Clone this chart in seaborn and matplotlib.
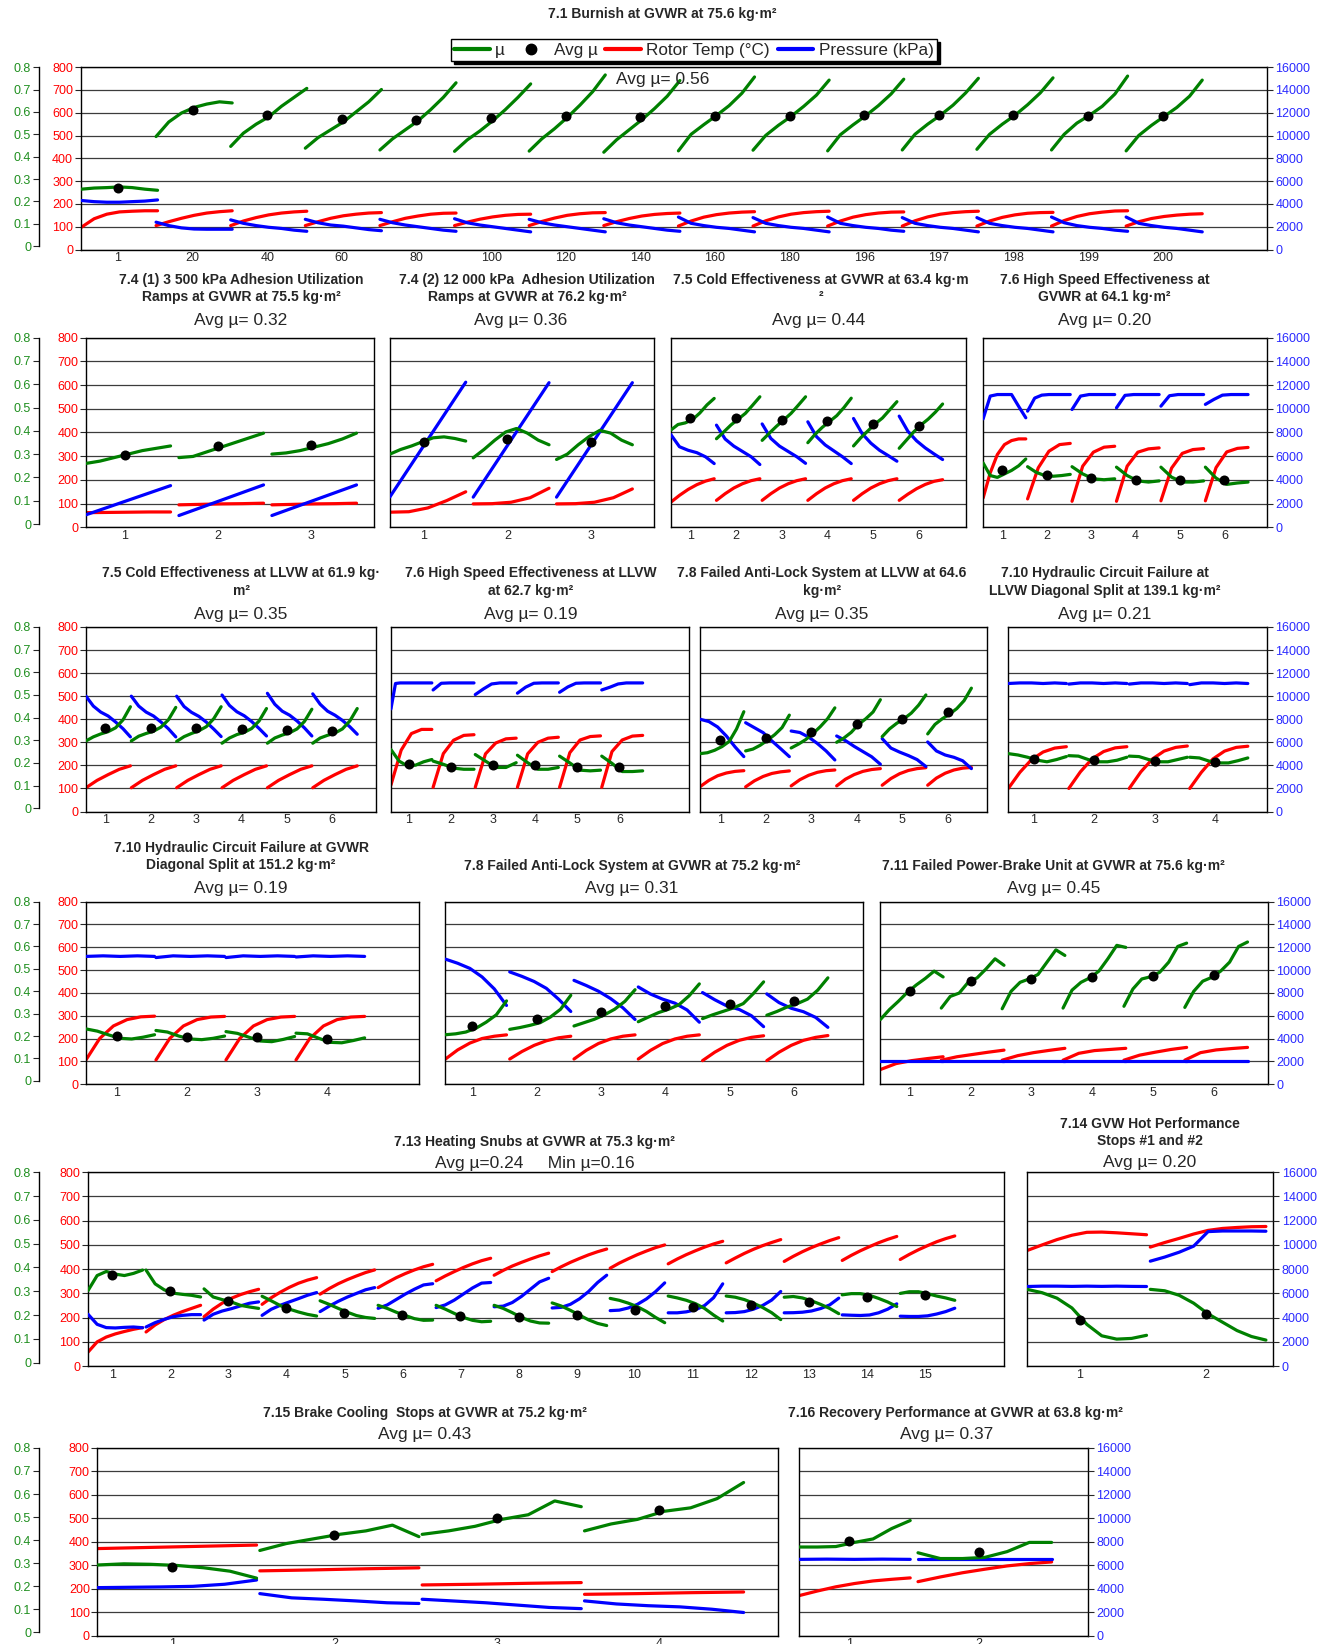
import numpy as np
import pandas as pd
import seaborn as sns
import matplotlib
matplotlib.use("Agg")
import matplotlib.pyplot as plt
from matplotlib.lines import Line2D

sns.set_style("white")
plt.rcParams["font.family"] = ["Liberation Sans", "DejaVu Sans"]

GREEN, RED, BLUE = "#008000", "#ff0000", "#0000ff"
LBL_GREEN, LBL_BLUE = "#1f8f1f", "#2a2aff"

# ---------------- 7.1 Burnish ----------------
LAB_71 = ["1", "20", "40", "60", "80", "100", "120", "140", "160", "180", "196", "197", "198", "199", "200"]
MU_71 = [
    [0.255, 0.26, 0.262, 0.265, 0.262, 0.255, 0.25],
    [0.49, 0.555, 0.595, 0.62, 0.635, 0.645, 0.64],
    [0.446, 0.505, 0.545, 0.578, 0.625, 0.665, 0.705],
    [0.438, 0.485, 0.52, 0.555, 0.6, 0.645, 0.70],
    [0.43, 0.48, 0.52, 0.56, 0.61, 0.665, 0.73],
    [0.424, 0.475, 0.515, 0.56, 0.61, 0.665, 0.725],
    [0.425, 0.48, 0.525, 0.575, 0.63, 0.69, 0.765],
    [0.42, 0.475, 0.52, 0.565, 0.615, 0.67, 0.74],
    [0.426, 0.50, 0.543, 0.584, 0.628, 0.683, 0.756],
    [0.429, 0.495, 0.54, 0.58, 0.625, 0.675, 0.742],
    [0.426, 0.498, 0.542, 0.583, 0.628, 0.68, 0.746],
    [0.43, 0.50, 0.545, 0.585, 0.63, 0.685, 0.75],
    [0.433, 0.50, 0.545, 0.585, 0.632, 0.685, 0.752],
    [0.43, 0.50, 0.55, 0.585, 0.625, 0.68, 0.76],
    [0.426, 0.495, 0.54, 0.58, 0.62, 0.67, 0.742],
]
AVG_71 = [0.26, 0.61, 0.585, 0.567, 0.565, 0.572, 0.583, 0.575, 0.583, 0.583, 0.584, 0.585, 0.585, 0.583, 0.582]
TEMP_71 = [
    [98, 135, 155, 165, 168, 170, 170],
    [105, 122, 137, 150, 160, 166, 170],
    [105, 125, 140, 152, 160, 165, 168],
    [105, 122, 137, 148, 155, 160, 162],
    [105, 122, 137, 147, 155, 159, 160],
    [105, 120, 133, 143, 150, 154, 155],
    [105, 123, 138, 150, 157, 161, 162],
    [105, 122, 136, 147, 154, 158, 160],
    [103, 125, 142, 153, 160, 164, 166],
    [103, 126, 143, 155, 162, 166, 168],
    [103, 125, 142, 153, 160, 164, 165],
    [103, 126, 143, 155, 162, 166, 168],
    [103, 125, 141, 152, 159, 162, 163],
    [103, 127, 145, 157, 164, 169, 170],
    [103, 122, 136, 145, 151, 155, 157],
]
PRES_71 = [
    [4300, 4200, 4150, 4150, 4200, 4250, 4350],
    [2400, 2100, 1900, 1800, 1780, 1780, 1780],
    [2600, 2300, 2100, 1950, 1850, 1700, 1600],
    [2650, 2350, 2150, 2050, 1900, 1750, 1650],
    [2650, 2350, 2150, 2000, 1850, 1700, 1600],
    [2700, 2350, 2150, 2000, 1850, 1700, 1550],
    [2650, 2350, 2150, 2000, 1850, 1700, 1550],
    [2700, 2350, 2150, 2000, 1850, 1700, 1600],
    [2850, 2300, 2100, 1950, 1850, 1700, 1550],
    [2800, 2300, 2100, 1950, 1850, 1700, 1550],
    [2850, 2300, 2100, 1950, 1850, 1700, 1600],
    [2800, 2300, 2100, 1950, 1850, 1700, 1550],
    [2800, 2300, 2100, 1950, 1850, 1700, 1550],
    [2850, 2350, 2100, 1950, 1850, 1700, 1600],
    [2850, 2300, 2100, 1950, 1850, 1700, 1550],
]

# ---------------- 7.4 (1) ----------------
MU_741 = [
    [0.26, 0.27, 0.285, 0.30, 0.315, 0.325, 0.335],
    [0.285, 0.29, 0.31, 0.33, 0.35, 0.37, 0.39],
    [0.30, 0.305, 0.315, 0.33, 0.345, 0.365, 0.39],
]
AVG_741 = [0.295, 0.335, 0.34]
TEMP_741 = [[62, 63, 64, 65, 65], [95, 97, 99, 100, 102], [95, 97, 99, 100, 102]]
PRES_741 = [[1060, 3520], [1000, 3580], [1000, 3580]]

# ---------------- 7.4 (2) ----------------
MU_742 = [
    [0.30, 0.32, 0.335, 0.353, 0.37, 0.374, 0.367, 0.356],
    [0.284, 0.32, 0.36, 0.395, 0.41, 0.39, 0.36, 0.34],
    [0.277, 0.30, 0.34, 0.375, 0.402, 0.39, 0.36, 0.34],
]
AVG_742 = [0.35, 0.365, 0.353]
TEMP_742 = [[64, 66, 82, 113, 150], [99, 100, 106, 125, 165], [99, 100, 106, 125, 162]]
PRES_742 = [[2570, 12240], [2550, 12200], [2550, 12200]]

# ---------------- 7.5 Cold GVWR ----------------
MU_75G = [
    [0.403, 0.427, 0.434, 0.448, 0.476, 0.511, 0.539],
    [0.366, 0.395, 0.425, 0.45, 0.475, 0.51, 0.546],
    [0.359, 0.39, 0.42, 0.447, 0.475, 0.51, 0.546],
    [0.349, 0.385, 0.415, 0.44, 0.465, 0.50, 0.54],
    [0.335, 0.37, 0.40, 0.43, 0.455, 0.49, 0.525],
    [0.325, 0.36, 0.395, 0.425, 0.45, 0.48, 0.515],
]
AVG_75G = [0.455, 0.455, 0.448, 0.44, 0.43, 0.42]
TEMP_75G = [
    [106, 135, 160, 180, 195, 205],
    [114, 142, 166, 184, 197, 205],
    [114, 142, 166, 184, 197, 205],
    [114, 142, 166, 184, 197, 205],
    [114, 142, 166, 184, 197, 205],
    [114, 140, 163, 181, 194, 201],
]
PRES_75G = [
    [7830, 6800, 6500, 6300, 5950, 5380],
    [8620, 7450, 6850, 6400, 5950, 5300],
    [8720, 7500, 6850, 6400, 5950, 5400],
    [8900, 7650, 6950, 6450, 5950, 5380],
    [9180, 7900, 7100, 6500, 6050, 5580],
    [9380, 8100, 7300, 6700, 6200, 5720],
]

# ---------------- 7.6 High Speed GVWR ----------------
MU_76G = [
    [0.262, 0.208, 0.20, 0.215, 0.23, 0.25, 0.279],
    [0.246, 0.222, 0.208, 0.205, 0.208, 0.213],
    [0.246, 0.215, 0.194, 0.19, 0.194],
    [0.244, 0.208, 0.185, 0.18, 0.185],
    [0.244, 0.201, 0.18, 0.18, 0.185],
    [0.244, 0.197, 0.17, 0.176, 0.18],
]
AVG_76G = [0.23, 0.211, 0.197, 0.19, 0.19, 0.19]
TEMP_76G = [
    [124, 230, 307, 349, 366, 373, 373],
    [120, 251, 321, 349, 354],
    [110, 258, 317, 338, 342],
    [110, 258, 317, 331, 335],
    [112, 250, 312, 328, 332],
    [112, 252, 318, 333, 337],
]
PRES_76G = [
    [9150, 11070, 11200, 11200, 11200, 10200, 9240],
    [9800, 10900, 11150, 11200, 11200, 11200, 11200],
    [9940, 11070, 11200, 11200, 11200, 11200],
    [10080, 11130, 11200, 11200, 11200, 11200],
    [10220, 11100, 11200, 11200, 11200, 11200],
    [10370, 10790, 11150, 11200, 11200, 11200],
]

# ---------------- 7.5 Cold LLVW ----------------
MU_75L = [
    [0.297, 0.315, 0.328, 0.338, 0.355, 0.39, 0.448],
    [0.297, 0.318, 0.33, 0.34, 0.358, 0.39, 0.445],
    [0.295, 0.316, 0.33, 0.342, 0.36, 0.395, 0.448],
    [0.287, 0.31, 0.325, 0.335, 0.352, 0.385, 0.44],
    [0.287, 0.31, 0.323, 0.333, 0.35, 0.383, 0.437],
    [0.287, 0.31, 0.322, 0.332, 0.35, 0.385, 0.44],
]
AVG_75L = [0.352, 0.352, 0.352, 0.348, 0.345, 0.342]
TEMP_75L = [
    [103, 135, 160, 183, 198],
    [103, 135, 160, 183, 198],
    [103, 135, 160, 183, 198],
    [103, 135, 160, 183, 198],
    [103, 135, 160, 183, 198],
    [103, 135, 160, 183, 198],
]
PRES_75L = [
    [10000, 9140, 8620, 8280, 7760, 7180, 6470],
    [10000, 9140, 8620, 8280, 7760, 7180, 6470],
    [10000, 9100, 8600, 8250, 7750, 7150, 6500],
    [10100, 9200, 8650, 8300, 7800, 7200, 6550],
    [10250, 9300, 8700, 8350, 7850, 7250, 6550],
    [10200, 9300, 8700, 8350, 7900, 7350, 6700],
]

# ---------------- 7.6 High Speed LLVW ----------------
MU_76L = [
    [0.259, 0.208, 0.187, 0.19, 0.205, 0.215],
    [0.208, 0.194, 0.177, 0.172, 0.172],
    [0.237, 0.208, 0.18, 0.18, 0.201],
    [0.234, 0.201, 0.172, 0.172, 0.18],
    [0.23, 0.20, 0.168, 0.165, 0.168],
    [0.23, 0.198, 0.162, 0.162, 0.165],
]
AVG_76L = [0.197, 0.18, 0.191, 0.191, 0.184, 0.18]
TEMP_76L = [
    [115, 266, 338, 356, 356],
    [105, 251, 309, 330, 333],
    [105, 250, 297, 315, 318],
    [105, 250, 300, 318, 322],
    [105, 255, 310, 325, 328],
    [105, 260, 310, 327, 330],
]
PRES_76L = [
    [8900, 11100, 11150, 11150, 11150, 11150, 11150, 11150, 11150, 11150],
    [10540, 11120, 11150, 11150, 11150, 11150],
    [10140, 10630, 11060, 11150, 11150, 11150],
    [10260, 10780, 11120, 11150, 11150, 11150],
    [10340, 10800, 11120, 11150, 11150, 11150],
    [10540, 10780, 11060, 11150, 11150, 11150],
]

# ---------------- 7.8 ABS LLVW ----------------
MU_78L = [
    [0.241, 0.245, 0.256, 0.272, 0.295, 0.35, 0.426],
    [0.253, 0.261, 0.278, 0.30, 0.325, 0.356, 0.411],
    [0.266, 0.283, 0.303, 0.33, 0.36, 0.395, 0.443],
    [0.291, 0.31, 0.335, 0.37, 0.395, 0.425, 0.479],
    [0.316, 0.35, 0.375, 0.395, 0.42, 0.455, 0.50],
    [0.328, 0.37, 0.395, 0.415, 0.44, 0.475, 0.53],
]
AVG_78L = [0.299, 0.31, 0.335, 0.37, 0.395, 0.425]
TEMP_78L = [
    [108, 135, 155, 167, 174, 177],
    [107, 133, 152, 165, 172, 176],
    [111, 138, 157, 170, 177, 180],
    [111, 140, 160, 174, 182, 186],
    [114, 143, 164, 178, 186, 190],
    [114, 145, 166, 180, 188, 191],
]
PRES_78L = [
    [8000, 7800, 7330, 6550, 5600, 4760],
    [7700, 7270, 6840, 6120, 5450, 4760],
    [6980, 6850, 6450, 5900, 5250, 4470],
    [6550, 6150, 5650, 5200, 4750, 4100],
    [6320, 5500, 5150, 4850, 4500, 3900],
    [6030, 5250, 4900, 4700, 4400, 3720],
]

# ---------------- 7.10 Hydraulic LLVW ----------------
MU_710L = [
    [0.241, 0.235, 0.225, 0.212, 0.205, 0.215, 0.228],
    [0.232, 0.23, 0.215, 0.205, 0.205, 0.212, 0.225],
    [0.23, 0.228, 0.215, 0.205, 0.205, 0.215, 0.225],
    [0.225, 0.222, 0.208, 0.20, 0.20, 0.21, 0.222],
]
AVG_710L = [0.216, 0.212, 0.208, 0.205]
TEMP_710L = [
    [100, 170, 225, 258, 275, 281],
    [100, 172, 228, 260, 276, 281],
    [100, 172, 228, 262, 278, 284],
    [100, 170, 228, 262, 278, 283],
]
PRES_710L = [
    [11100, 11150, 11150, 11100, 11150, 11100],
    [11050, 11150, 11150, 11100, 11150, 11100],
    [11050, 11150, 11150, 11100, 11150, 11100],
    [11000, 11150, 11150, 11100, 11150, 11100],
]

# ---------------- 7.10 Hydraulic GVWR ----------------
MU_710G = [
    [0.232, 0.222, 0.205, 0.19, 0.187, 0.195, 0.206],
    [0.225, 0.218, 0.20, 0.187, 0.184, 0.19, 0.20],
    [0.22, 0.212, 0.195, 0.178, 0.175, 0.185, 0.198],
    [0.213, 0.21, 0.19, 0.172, 0.17, 0.18, 0.192],
]
AVG_710G = [0.20, 0.198, 0.194, 0.188]
TEMP_710G = [
    [106, 200, 255, 283, 295, 298],
    [106, 200, 255, 283, 294, 297],
    [106, 200, 255, 283, 294, 297],
    [106, 200, 255, 283, 294, 297],
]
PRES_710G = [
    [11200, 11250, 11200, 11250, 11200],
    [11100, 11250, 11200, 11250, 11200],
    [11100, 11250, 11200, 11250, 11200],
    [11150, 11250, 11200, 11250, 11200],
]

# ---------------- 7.8 ABS GVWR ----------------
MU_78G = [
    [0.206, 0.21, 0.218, 0.235, 0.262, 0.295, 0.357],
    [0.23, 0.238, 0.248, 0.26, 0.285, 0.32, 0.382],
    [0.245, 0.26, 0.275, 0.295, 0.32, 0.355, 0.407],
    [0.264, 0.285, 0.305, 0.32, 0.34, 0.38, 0.433],
    [0.278, 0.295, 0.31, 0.325, 0.345, 0.39, 0.442],
    [0.293, 0.31, 0.33, 0.345, 0.365, 0.405, 0.46],
]
AVG_78G = [0.247, 0.275, 0.308, 0.333, 0.344, 0.357]
TEMP_78G = [
    [110, 150, 180, 200, 210, 216],
    [110, 143, 170, 190, 203, 210],
    [110, 148, 178, 198, 210, 216],
    [110, 148, 178, 198, 210, 216],
    [103, 140, 170, 192, 205, 212],
    [103, 140, 170, 192, 205, 213],
]
PRES_78G = [
    [10960, 10600, 10150, 9400, 8350, 6900],
    [9840, 9450, 9000, 8400, 7450, 6370],
    [9100, 8650, 8150, 7500, 6700, 5670],
    [8520, 7900, 7450, 7100, 6500, 5430],
    [8030, 7400, 6850, 6550, 6000, 5040],
    [7910, 7150, 6650, 6350, 5850, 4980],
]

# ---------------- 7.11 Power-Brake ----------------
MU_711 = [
    [0.274, 0.318, 0.355, 0.395, 0.428, 0.457, 0.49, 0.464],
    [0.325, 0.377, 0.392, 0.44, 0.46, 0.50, 0.545, 0.516],
    [0.322, 0.40, 0.44, 0.455, 0.475, 0.53, 0.585, 0.56],
    [0.325, 0.405, 0.44, 0.46, 0.49, 0.545, 0.605, 0.596],
    [0.333, 0.41, 0.455, 0.465, 0.485, 0.53, 0.60, 0.615],
    [0.328, 0.40, 0.445, 0.462, 0.49, 0.53, 0.60, 0.62],
]
AVG_711 = [0.401, 0.445, 0.456, 0.462, 0.47, 0.472]
TEMP_711 = [
    [64, 90, 103, 112, 120],
    [105, 120, 130, 140, 149],
    [105, 125, 138, 148, 157],
    [105, 135, 147, 152, 157],
    [105, 127, 140, 152, 161],
    [105, 138, 150, 156, 161],
]
PRES_711 = [[2020, 2020], [2020, 2020], [2020, 2020], [2020, 2020], [2020, 2020], [2020, 2020]]

# ---------------- 7.13 Heating Snubs ----------------
MU_713 = [
    [0.303, 0.366, 0.383, 0.372, 0.366, 0.375, 0.389],
    [0.389, 0.331, 0.306, 0.292, 0.287, 0.283, 0.276],
    [0.31, 0.276, 0.265, 0.255, 0.241, 0.234, 0.228],
    [0.279, 0.26, 0.24, 0.225, 0.213, 0.203, 0.196],
    [0.26, 0.245, 0.228, 0.212, 0.198, 0.19, 0.186],
    [0.241, 0.228, 0.212, 0.198, 0.185, 0.178, 0.179],
    [0.241, 0.225, 0.207, 0.19, 0.178, 0.172, 0.174],
    [0.241, 0.228, 0.21, 0.19, 0.175, 0.167, 0.166],
    [0.251, 0.238, 0.22, 0.20, 0.18, 0.165, 0.156],
    [0.27, 0.262, 0.25, 0.235, 0.215, 0.19, 0.168],
    [0.28, 0.272, 0.262, 0.248, 0.228, 0.20, 0.175],
    [0.28, 0.275, 0.265, 0.25, 0.232, 0.21, 0.181],
    [0.275, 0.278, 0.272, 0.26, 0.245, 0.228, 0.206],
    [0.285, 0.29, 0.29, 0.283, 0.27, 0.255, 0.236],
    [0.291, 0.298, 0.298, 0.29, 0.28, 0.272, 0.262],
]
AVG_713 = [0.37, 0.299, 0.258, 0.228, 0.21, 0.20, 0.196, 0.193, 0.20, 0.22, 0.232, 0.243, 0.257, 0.274, 0.285]
TEMP_713 = [
    [58, 100, 120, 133, 143, 152, 159],
    [141, 170, 192, 210, 225, 238, 251],
    [204, 235, 260, 280, 295, 307, 317],
    [255, 282, 305, 325, 342, 355, 365],
    [297, 320, 340, 357, 372, 386, 397],
    [324, 345, 365, 382, 397, 410, 420],
    [352, 372, 390, 407, 422, 435, 445],
    [375, 395, 413, 428, 442, 455, 466],
    [390, 410, 428, 444, 459, 472, 483],
    [404, 425, 443, 460, 475, 489, 500],
    [422, 442, 460, 476, 491, 504, 515],
    [426, 446, 465, 482, 497, 510, 522],
    [432, 453, 472, 489, 504, 518, 530],
    [436, 457, 476, 493, 509, 523, 535],
    [440, 461, 480, 497, 513, 526, 537],
]
PRES_713 = [
    [4280, 3450, 3180, 3150, 3200, 3230, 3170],
    [3230, 3590, 3860, 4080, 4190, 4250, 4250],
    [3800, 4280, 4550, 4740, 4970, 5190, 5300],
    [4190, 4690, 5020, 5300, 5570, 5850, 6070],
    [4500, 4950, 5350, 5700, 6000, 6300, 6480],
    [4770, 5050, 5500, 5950, 6350, 6700, 6800],
    [4830, 5050, 5450, 5950, 6450, 6850, 6900],
    [4900, 4950, 5250, 5750, 6350, 6950, 7250],
    [4800, 4850, 5100, 5550, 6150, 6900, 7500],
    [4580, 4620, 4800, 5100, 5550, 6150, 6870],
    [4400, 4400, 4480, 4650, 5000, 5650, 6790],
    [4400, 4420, 4500, 4700, 5000, 5450, 6160],
    [4400, 4410, 4450, 4550, 4750, 5050, 5610],
    [4230, 4200, 4180, 4220, 4400, 4700, 5140],
    [4120, 4100, 4100, 4150, 4300, 4500, 4780],
]

# ---------------- 7.14 Hot Performance ----------------
MU_714 = [
    [0.308, 0.294, 0.271, 0.23, 0.161, 0.113, 0.099, 0.102, 0.115],
    [0.308, 0.302, 0.283, 0.25, 0.205, 0.17, 0.135, 0.11, 0.095],
]
AVG_714 = [0.181, 0.205]
TEMP_714 = [
    [477, 500, 522, 540, 552, 553, 550, 546, 542],
    [491, 510, 527, 545, 560, 568, 572, 575, 576],
]
PRES_714 = [
    [6570, 6600, 6600, 6580, 6600, 6580, 6600, 6580, 6570],
    [8660, 9000, 9400, 9900, 11100, 11150, 11150, 11150, 11130],
]

# ---------------- 7.15 Brake Cooling ----------------
MU_715 = [
    [0.292, 0.297, 0.295, 0.29, 0.28, 0.265, 0.235],
    [0.355, 0.385, 0.405, 0.425, 0.44, 0.465, 0.415],
    [0.425, 0.44, 0.46, 0.49, 0.51, 0.57, 0.545],
    [0.44, 0.47, 0.49, 0.525, 0.54, 0.58, 0.65],
]
AVG_715 = [0.285, 0.42, 0.495, 0.53]
TEMP_715 = [[371, 376, 381, 386], [276, 280, 285, 289], [216, 219, 223, 226], [176, 179, 183, 186]]
PRES_715 = [
    [4090, 4120, 4150, 4200, 4380, 4740],
    [3580, 3220, 3100, 2960, 2800, 2740],
    [3100, 2950, 2800, 2600, 2400, 2300],
    [2960, 2700, 2550, 2450, 2250, 1970],
]

# ---------------- 7.16 Recovery ----------------
MU_716 = [
    [0.37, 0.37, 0.372, 0.39, 0.405, 0.45, 0.485],
    [0.345, 0.32, 0.32, 0.325, 0.35, 0.39, 0.39],
]
AVG_716 = [0.398, 0.347]
TEMP_716 = [[170, 190, 208, 222, 233, 240, 246], [230, 250, 268, 283, 297, 307, 314]]
PRES_716 = [[6500, 6520, 6500, 6520, 6500], [6550, 6550, 6550]]

# ---------------- layout (reference pixel grid 1268 x 1568) ----------------
W, H = 1268.0, 1568.0
MU_SPINE_X = 37

LAYOUT = [
    dict(mu=MU_71, avg=AVG_71, temp=TEMP_71, pres=PRES_71, labels=LAB_71,
         box=(77, 64, 1209, 238), xlim=(-0.5, 15.4), span=(-0.49, 0.53), first=True, last=True),
    dict(mu=MU_741, avg=AVG_741, temp=TEMP_741, pres=PRES_741,
         box=(82, 322, 357, 503), xlim=(-0.42, 2.68), span=(-0.42, 0.49), first=True),
    dict(mu=MU_742, avg=AVG_742, temp=TEMP_742, pres=PRES_742,
         box=(372, 322, 624, 503), xlim=(-0.41, 2.76), span=(-0.41, 0.5)),
    dict(mu=MU_75G, avg=AVG_75G, temp=TEMP_75G, pres=PRES_75G,
         box=(640, 322, 922, 503), xlim=(-0.43, 6.04), span=(-0.43, 0.52)),
    dict(mu=MU_76G, avg=AVG_76G, temp=TEMP_76G, pres=PRES_76G,
         box=(938, 322, 1209, 503), xlim=(-0.43, 5.96), span=(-0.43, 0.53), last=True),
    dict(mu=MU_75L, avg=AVG_75L, temp=TEMP_75L, pres=PRES_75L,
         box=(82, 598, 359, 774), xlim=(-0.43, 5.97), span=(-0.43, 0.55), first=True),
    dict(mu=MU_76L, avg=AVG_76L, temp=TEMP_76L, pres=PRES_76L,
         box=(373, 598, 657, 774), xlim=(-0.42, 6.64), span=(-0.42, 0.55)),
    dict(mu=MU_78L, avg=AVG_78L, temp=TEMP_78L, pres=PRES_78L,
         box=(668, 598, 942, 774), xlim=(-0.44, 5.87), span=(-0.44, 0.52)),
    dict(mu=MU_710L, avg=AVG_710L, temp=TEMP_710L, pres=PRES_710L,
         box=(962, 598, 1209, 774), xlim=(-0.42, 3.86), span=(-0.42, 0.54), last=True),
    dict(mu=MU_710G, avg=AVG_710G, temp=TEMP_710G, pres=PRES_710G,
         box=(82, 860, 400, 1034), xlim=(-0.44, 4.32), span=(-0.44, 0.54), first=True),
    dict(mu=MU_78G, avg=AVG_78G, temp=TEMP_78G, pres=PRES_78G,
         box=(425, 860, 823, 1034), xlim=(-0.42, 6.07), span=(-0.42, 0.53)),
    dict(mu=MU_711, avg=AVG_711, temp=TEMP_711, pres=PRES_711,
         box=(840, 860, 1210, 1034), xlim=(-0.48, 5.89), span=(-0.48, 0.55), last=True),
    dict(mu=MU_713, avg=AVG_713, temp=TEMP_713, pres=PRES_713,
         box=(84, 1118, 958, 1303), xlim=(-0.42, 15.37), span=(-0.42, 0.52), first=True),
    dict(mu=MU_714, avg=AVG_714, temp=TEMP_714, pres=PRES_714,
         box=(980, 1118, 1215, 1303), xlim=(-0.42, 1.54), spans=[(-0.42, 0.53), (0.56, 1.48)], last=True),
    dict(mu=MU_715, avg=AVG_715, temp=TEMP_715, pres=PRES_715,
         box=(93, 1381, 742, 1560), xlim=(-0.46, 3.73), span=(-0.46, 0.52), first=True),
    dict(mu=MU_716, avg=AVG_716, temp=TEMP_716, pres=PRES_716,
         box=(762, 1381, 1038, 1560), xlim=(-0.39, 1.84), spans=[(-0.39, 0.47), (0.53, 1.56)], last=True),
]

TITLES = [
    ("7.1 Burnish at GVWR at 75.6 kg·m²", 632, 13),
    ("7.4 (1) 3 500 kPa Adhesion Utilization\nRamps at GVWR at 75.5 kg·m²", 230, 275),
    ("7.4 (2) 12 000 kPa  Adhesion Utilization\nRamps at GVWR at 76.2 kg·m²", 503, 275),
    ("7.5 Cold Effectiveness at GVWR at 63.4 kg·m\n²", 783, 275),
    ("7.6 High Speed Effectiveness at\nGVWR at 64.1 kg·m²", 1054, 275),
    ("7.5 Cold Effectiveness at LLVW at 61.9 kg·\nm²", 230, 555),
    ("7.6 High Speed Effectiveness at LLVW\nat 62.7 kg·m²", 506, 555),
    ("7.8 Failed Anti-Lock System at LLVW at 64.6\nkg·m²", 784, 555),
    ("7.10 Hydraulic Circuit Failure at\nLLVW Diagonal Split at 139.1 kg·m²", 1054, 555),
    ("7.10 Hydraulic Circuit Failure at GVWR\nDiagonal Split at 151.2 kg·m²", 230, 817),
    ("7.8 Failed Anti-Lock System at GVWR at 75.2 kg·m²", 603, 826),
    ("7.11 Failed Power-Brake Unit at GVWR at 75.6 kg·m²", 1005, 826),
    ("7.13 Heating Snubs at GVWR at 75.3 kg·m²", 510, 1089),
    ("7.14 GVW Hot Performance\nStops #1 and #2", 1097, 1080),
    ("7.15 Brake Cooling  Stops at GVWR at 75.2 kg·m²", 405, 1348),
    ("7.16 Recovery Performance at GVWR at 63.8 kg·m²", 912, 1348),
]
AVG_TEXT = [
    ("Avg µ= 0.56", 632, 76), ("Avg µ= 0.32", 230, 306), ("Avg µ= 0.36", 497, 306),
    ("Avg µ= 0.44", 781, 306), ("Avg µ= 0.20", 1054, 306), ("Avg µ= 0.35", 230, 586),
    ("Avg µ= 0.19", 506, 586), ("Avg µ= 0.35", 784, 586), ("Avg µ= 0.21", 1054, 586),
    ("Avg µ= 0.19", 230, 847), ("Avg µ= 0.31", 603, 847), ("Avg µ= 0.45", 1005, 847),
    ("Avg µ=0.24     Min µ=0.16", 510, 1110), ("Avg µ= 0.20", 1097, 1109),
    ("Avg µ= 0.43", 405, 1368), ("Avg µ= 0.37", 903, 1368),
]

LW = 2.3
PX2PT = (1329 / 1268) * 72 / 100


def long_frame(series, spans):
    rows = []
    for k, vals in enumerate(series):
        xs = np.linspace(spans[k][0], spans[k][1], len(vals))
        rows += [(k, x, v) for x, v in zip(xs, vals)]
    return pd.DataFrame(rows, columns=["seg", "x", "v"])


def draw_panel(fig, spec):
    l, t, r, b = spec["box"]
    ax = fig.add_axes([l / W, 1 - b / H, (r - l) / W, (b - t) / H])
    axp = ax.twinx()
    axm = ax.twinx()
    n = len(spec["mu"])
    spans = spec.get("spans") or [(i + spec["span"][0], i + spec["span"][1]) for i in range(n)]
    kw = dict(x="x", y="v", units="seg", estimator=None, sort=False, lw=LW,
              legend=False, solid_capstyle="round")
    sns.lineplot(data=long_frame(spec["temp"], spans), color=RED, ax=ax, **kw)
    sns.lineplot(data=long_frame(spec["pres"], spans), color=BLUE, ax=axp, **kw)
    sns.lineplot(data=long_frame(spec["mu"], spans), color=GREEN, ax=axm, **kw)
    sns.scatterplot(x=np.arange(n), y=spec["avg"], color="black", s=52, linewidth=0,
                    ax=axm, legend=False, zorder=5)

    ax.set_xlim(*spec["xlim"])
    ax.set_ylim(0, 800)
    ax.set_yticks(range(0, 801, 100))
    ax.yaxis.grid(True, color="#3c3c3c", lw=0.9)
    ax.set_axisbelow(True)
    for s in ax.spines.values():
        s.set_color("black")
        s.set_linewidth(1.0)
    ax.set_xticks(range(n))
    ax.set_xticklabels(spec.get("labels", [str(i + 1) for i in range(n)]), fontsize=9)
    ax.tick_params(axis="x", length=0, pad=2)
    ax.set_xlabel("")
    ax.set_ylabel("")
    if spec.get("first"):
        ax.tick_params(axis="y", direction="out", length=4, width=0.8, labelsize=9,
                       labelcolor=RED, pad=1.5, left=True)
    else:
        ax.tick_params(axis="y", left=False, labelleft=False)

    axm.set_ylim(-0.0145, 0.8)
    axm.set_ylabel("")
    for s in axm.spines.values():
        s.set_visible(False)
    if spec.get("first"):
        axm.yaxis.set_ticks_position("left")
        sp = axm.spines["left"]
        sp.set_visible(True)
        sp.set_position(("outward", (l - MU_SPINE_X) * PX2PT))
        sp.set_bounds(0, 0.8)
        sp.set_color("black")
        sp.set_linewidth(1.0)
        axm.set_yticks(np.arange(0, 0.81, 0.1))
        axm.set_yticklabels(["0"] + ["%.1f" % v for v in np.arange(0.1, 0.81, 0.1)])
        axm.tick_params(axis="y", direction="out", length=4, width=0.8, labelsize=9,
                        labelcolor=LBL_GREEN, pad=1.5)
    else:
        axm.set_yticks([])

    axp.set_ylim(0, 16000)
    axp.set_ylabel("")
    for s in axp.spines.values():
        s.set_visible(False)
    if spec.get("last"):
        axp.set_yticks(range(0, 16001, 2000))
        axp.tick_params(axis="y", direction="out", length=4, width=0.8, labelsize=9,
                        labelcolor=LBL_BLUE, pad=2)
    else:
        axp.set_yticks([])
    return ax


fig = plt.figure(figsize=(13.29, 16.44), dpi=100)
for spec in LAYOUT:
    draw_panel(fig, spec)

for txt, cx, cy in TITLES:
    fig.text(cx / W, 1 - cy / H, txt, ha="center", va="center", fontsize=10,
             fontweight="bold", linespacing=1.33)
for txt, cx, cy in AVG_TEXT:
    fig.text(cx / W, 1 - cy / H, txt, ha="center", va="center", fontsize=12.5)

handles = [
    Line2D([], [], color=GREEN, lw=3),
    Line2D([], [], color="black", marker="o", ls="none", markersize=7.5),
    Line2D([], [], color=RED, lw=3),
    Line2D([], [], color=BLUE, lw=3),
]
fig.legend(handles, ["µ", "Avg µ", "Rotor Temp (°C)", "Pressure (kPa)"],
           loc="center", bbox_to_anchor=(662 / W, 1 - 48 / H), ncol=4, fontsize=12.3,
           frameon=True, fancybox=False, edgecolor="black", framealpha=1,
           shadow={"color": "black", "alpha": 1}, handlelength=2.1,
           handletextpad=0.3, columnspacing=0.45, borderpad=0.2, borderaxespad=0)

fig.savefig("out.png", dpi=100)
